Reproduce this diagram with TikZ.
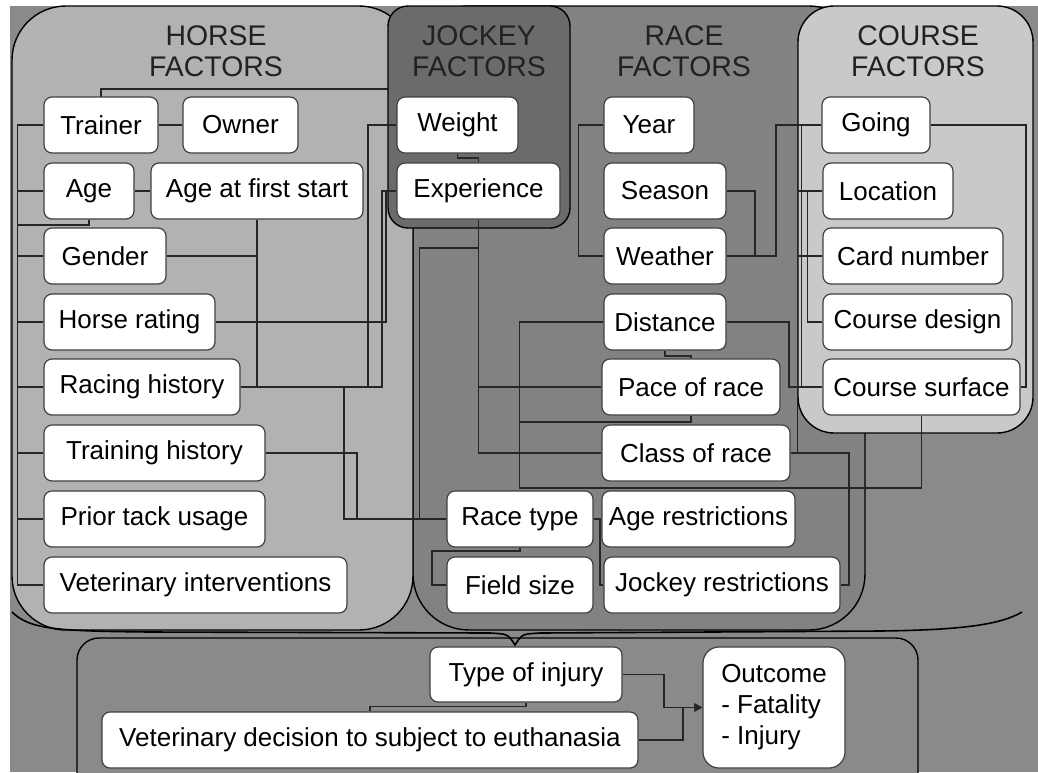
\documentclass[tikz,border=0pt]{standalone}
\usepackage{fontspec}
\setmainfont{Liberation Sans}
\usetikzlibrary{arrows.meta,positioning}
\definecolor{bggray}{gray}{0.54}
\definecolor{racegray}{gray}{0.51}
\definecolor{horsegray}{gray}{0.70}
\definecolor{jockeygray}{gray}{0.42}
\definecolor{coursegray}{gray}{0.79}
\definecolor{titlegray}{gray}{0.13}

\begin{document}
\begin{tikzpicture}[x=0.5pt, y=-0.5pt,
  panel/.style={draw=black, line width=0.7pt},
  fbox/.style={rectangle, rounded corners=4pt, draw=black!75, fill=white,
               line width=0.6pt, minimum height=28pt, inner sep=0pt,
               font=\fontsize{13}{15.5}\selectfont},
  ttl/.style={align=center, text=titlegray, font=\fontsize{14.2}{15.5}\selectfont},
  conn/.style={line width=0.9pt, draw=black!85},
  arr/.style={conn, -{Triangle[length=4pt, width=4pt]}}
]
\useasboundingbox (0,0) rectangle (1038,772);
\fill[white] (0,0) rectangle (1038,772);
\fill[bggray] (10,6) rectangle (1038,772);

% Panels
\draw[panel, fill=racegray, rounded corners=28pt] (413,6) rectangle (865,630);
\draw[panel, fill=horsegray, rounded corners=27pt] (12,6) rectangle (413,630);
\draw[conn] (101,97) -- ++(0,-8) -- ++(287,0);
\draw[panel, fill=jockeygray, rounded corners=10pt] (388,6) rectangle (570,228);
\draw[panel, fill=coursegray, rounded corners=18pt] (798,6) rectangle (1033,433);
\draw[panel, fill=bggray, rounded corners=11pt] (77,638) rectangle (918,800);
\draw[line width=0.8pt] (12,612) .. controls (30,630) and (60,631) .. (150,632)
  -- (490,633) .. controls (508,634) .. (515,645) .. controls (522,634) .. (540,633)
  -- (880,631) .. controls (960,630) and (1000,625) .. (1022,612);

% Titles
\node[ttl] (horsettl)  at (216,51) {HORSE\\FACTORS};
\node[ttl] (jockeyttl) at (479,51) {JOCKEY\\FACTORS};
\node[ttl] (racettl)   at (684,51) {RACE\\FACTORS};
\node[ttl] (coursettl) at (918,51) {COURSE\\FACTORS};

% Horse factors
\node[fbox, minimum width=57pt]    (trainer)  at (101,125)   {Trainer};
\node[fbox, minimum width=57.5pt]  (owner)    at (240.5,125) {Owner};
\node[fbox, minimum width=45pt]    (age)      at (89,191)    {Age};
\node[fbox, minimum width=106pt]   (agefirst) at (257,191)   {Age at first start};
\node[fbox, minimum width=61pt]    (gender)   at (105,256)   {Gender};
\node[fbox, minimum width=85.5pt]  (hrating)  at (129.5,322) {Horse rating};
\node[fbox, minimum width=98pt]    (rhistory) at (142,387)   {Racing history};
\node[fbox, minimum width=110.5pt] (thistory) at (154.5,453) {Training history};
\node[fbox, minimum width=110.5pt] (tack)     at (154.5,519) {Prior tack usage};
\node[fbox, minimum width=151.5pt] (vetint)   at (195.5,585) {Veterinary interventions};

% Jockey factors
\node[fbox, minimum width=60.5pt] (weight)     at (457.5,125) {Weight};
\node[fbox, minimum width=81.5pt] (experience) at (478.5,191) {Experience};

% Race factors
\node[fbox, minimum width=45pt]   (year)        at (649,125)   {Year};
\node[fbox, minimum width=61pt]   (season)      at (665,191)   {Season};
\node[fbox, minimum width=61pt]   (weather)     at (665,256)   {Weather};
\node[fbox, minimum width=61pt]   (distance)    at (665,322)   {Distance};
\node[fbox, minimum width=89pt]   (pace)        at (691,387)   {Pace of race};
\node[fbox, minimum width=94pt]   (class)       at (696,453)   {Class of race};
\node[fbox, minimum width=73pt]   (racetype)    at (520,519)   {Race type};
\node[fbox, minimum width=96.5pt] (agerestr)    at (698.5,519) {Age restrictions};
\node[fbox, minimum width=73pt]   (fieldsize)   at (520,585)   {Field size};
\node[fbox, minimum width=118pt]  (jockeyrestr) at (722,585)   {Jockey restrictions};

% Course factors
\node[fbox, minimum width=54pt]   (going)    at (876,125)   {Going};
\node[fbox, minimum width=65pt]   (location) at (888,191)   {Location};
\node[fbox, minimum width=90pt]   (cardno)   at (913,256)   {Card number};
\node[fbox, minimum width=94.5pt] (design)   at (917.5,322) {Course design};
\node[fbox, minimum width=98.5pt] (surface)  at (921.5,387) {Course surface};

% Injury and outcome
\node[fbox, minimum width=96pt, minimum height=27.5pt] (injury) at (526,674.5) {Type of injury};
\node[fbox, minimum width=268pt] (euthan) at (370,740) {Veterinary decision to subject to euthanasia};
\node[fbox, minimum width=71pt, minimum height=60.5pt, rounded corners=8pt, align=left]
  (outcome) at (774,707.5) {Outcome\\- Fatality\\- Injury};

% Horse links
\draw[conn] (trainer.west) -- ++(-26,0) |- (vetint.west);
\foreach \n in {age,gender,hrating,rhistory,thistory,tack}
  \draw[conn] (\n.west) -- ++(-26,0);
\draw[conn] (trainer.east) -- (owner.west);
\draw[conn] (age.east) -- (agefirst.west);
\draw[conn] (age.south) -- ++(0,5) -- ++(-71,0);
\draw[conn] (gender.east) -- (gender.east -| agefirst.south);
\draw[conn] (agefirst.south) -- (agefirst.south |- rhistory.east);
\draw[conn] (rhistory.east) -- ++(127,0) |- (weight.west);
\draw[conn] (rhistory.east) -- ++(141,0) |- (experience.west);
\draw[conn] (hrating.east) -- ++(170,0) |- (experience.west);
\draw[conn] (rhistory.east) -- ++(103,0) |- (racetype.west);
\draw[conn] (thistory.east) -- ++(91,0) |- (racetype.west);

% Jockey and race links
\draw[conn] (weight.south) -- ++(0,4) -| (experience.north);
\draw[conn] (experience.south) |- (pace.west);
\draw[conn] (experience.south) |- (class.west);
\draw[conn] (experience.south) -- ++(0,28) -- ++(-59,0) |- (racetype.west);
\draw[conn] (year.west) -- ++(-25,0) |- (weather.west);
\draw[conn] (season.east) -- ++(28,0) |- (weather.east);
\draw[conn] (weather.east) -- ++(49,0) |- (going.west);
\draw[conn] (distance.west) -- ++(-84,0) -- ++(0,166) -| (surface.south);
\draw[conn] (pace.south) -- ++(0,6) -- ++(-171,0);
\draw[conn] (distance.south) -- ++(0,5) -| (pace.north);
\draw[conn] (distance.east) -- ++(62,0) |- (surface.west);
\draw[conn] (racetype.east) -- (agerestr.west);
\draw[conn] (racetype.east) -- ++(6,0) |- (jockeyrestr.west);
\draw[conn] (racetype.south) -- ++(0,3) -- ++(-88,0) |- (fieldsize.west);
\draw[conn] (class.east) -- ++(58,0) |- (jockeyrestr.east);

% Course links
\draw[conn] (going.east) -- ++(95,0) |- (surface.east);
\draw[conn] (going.west) -- ++(-20,0) |- (surface.west);
\draw[conn] (going.west) -- ++(-24,0) |- (class.east);
\draw[conn] (location.west) -- ++(-15,0) |- (design.west);
\draw[conn] (location.west) -- ++(-25,0);
\draw[conn] (cardno.west) -- ++(-25,0);

% Outcome links
\draw[conn] (euthan.north) -- ++(0,-5) -| (injury.south);
\draw[arr] (injury.east) -- ++(41,0) |- (outcome.west);
\draw[arr] (euthan.east) -- ++(44,0) |- (outcome.west);
\end{tikzpicture}
\end{document}
